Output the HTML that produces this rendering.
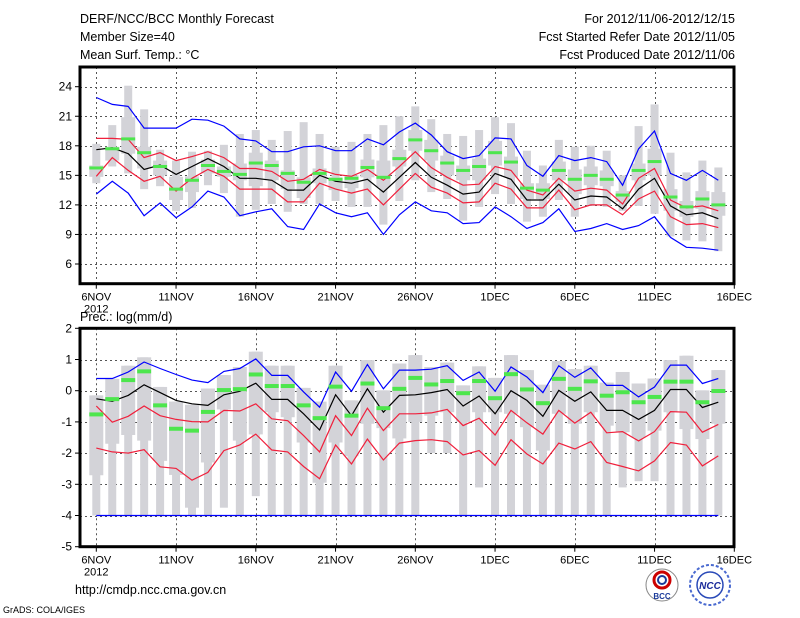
<!DOCTYPE html>
<html><head><meta charset="utf-8">
<style>
html,body{margin:0;padding:0;background:#fff;}
svg{display:block;font-family:"Liberation Sans",sans-serif;}
</style></head>
<body>
<svg id="chart" width="800" height="618" viewBox="0 0 800 618" xmlns="http://www.w3.org/2000/svg">
<rect x="0" y="0" width="800" height="618" fill="#fff"/>
<g font-size="12.5" fill="#000">
<text x="80" y="23">DERF/NCC/BCC Monthly Forecast</text>
<text x="80" y="41">Member Size=40</text>
<text x="80" y="59">Mean Surf. Temp.: °C</text>
<text x="735" y="23" text-anchor="end">For 2012/11/06-2012/12/15</text>
<text x="735" y="41" text-anchor="end">Fcst Started Refer Date 2012/11/05</text>
<text x="735" y="59" text-anchor="end">Fcst Produced Date 2012/11/06</text>
<text x="80" y="321">Prec.: log(mm/d)</text>
<text x="75" y="594">http://cmdp.ncc.cma.gov.cn</text>
<text x="3" y="613" font-size="9">GrADS: COLA/IGES</text>
</g>
<g>
<circle cx="662" cy="585" r="16" fill="#fff" stroke="#888" stroke-width="1"/>
<circle cx="662" cy="580" r="8" fill="none" stroke="#c00" stroke-width="3"/>
<circle cx="662" cy="580" r="4" fill="none" stroke="#1a3a9a" stroke-width="2"/>
<text x="662" y="599" font-size="8" text-anchor="middle" fill="#1a3a9a" font-weight="bold">BCC</text>
</g>
<g>
<circle cx="710" cy="585" r="20" fill="#fff" stroke="#4a6ad0" stroke-width="2" stroke-dasharray="3,2"/>
<circle cx="710" cy="585" r="13" fill="#fff" stroke="#2a4ab8" stroke-width="1.5"/>
<text x="710" y="589" font-size="10" text-anchor="middle" fill="#1a2a9a" font-weight="bold" font-style="italic">NCC</text>
</g>
<g id="plots"></g>
</svg>
<script>
// ===== Data (day 0 = 6NOV 2012) =====
const xLabels = ["6NOV","11NOV","16NOV","21NOV","26NOV","1DEC","6DEC","11DEC","16DEC"];
// Temperature panel
const tBlueHi = [22.9,22.2,22.0,19.8,19.8,19.8,20.7,20.6,20.0,18.7,18.5,17.4,17.4,17.9,18.0,17.5,17.5,18.7,18.1,19.4,20.3,19.1,17.4,16.7,17.0,18.8,18.7,16.0,14.9,17.0,16.5,16.8,16.4,14.0,17.7,19.5,15.2,14.5,15.5,14.5];
const tRedHi = [18.75,18.75,18.65,16.8,17.3,16.5,16.9,17.4,16.8,15.7,15.7,15.4,14.4,14.6,15.6,15.1,14.9,15.6,14.5,15.9,17.4,15.8,14.8,14.0,14.1,15.9,15.5,13.5,13.0,14.7,13.4,13.7,13.5,12.1,14.7,15.7,12.5,11.7,11.9,11.4];
const tBlack = [17.6,17.8,17.2,15.6,16.05,15.1,15.9,16.7,15.9,14.7,14.7,14.5,13.5,13.5,15.0,14.4,14.2,14.6,13.3,14.8,16.3,14.8,14.0,13.1,13.3,15.2,14.6,12.5,12.5,14.1,12.5,12.9,12.8,11.6,13.6,14.7,11.9,11.0,11.2,10.6];
const tRedLo = [14.9,16.8,15.5,14.4,14.9,13.4,14.7,15.6,14.9,13.6,13.6,13.6,12.3,12.3,14.2,13.6,13.2,13.6,12.0,13.6,15.2,13.8,13.2,12.2,12.3,14.2,13.6,11.7,11.7,13.5,11.5,12.0,12.0,11.0,12.6,13.4,10.8,10.0,10.1,9.7];
const tBlueLo = [13.1,14.4,13.2,10.9,12.2,10.7,11.8,13.4,12.8,10.9,11.3,11.6,9.8,9.5,12.1,11.2,10.8,11.2,9.0,11.0,12.3,11.4,11.2,10.1,10.2,11.8,10.8,9.6,10.2,11.6,9.3,9.6,10.1,9.5,9.9,10.8,8.7,7.7,7.6,7.4];
const tMax = [18.2,20.1,24.1,21.7,17.6,16.5,17.4,17.5,18.1,19.2,19.6,18.6,19.5,20.4,19.2,17.9,18.4,19.2,20.1,21.0,22.0,20.7,19.2,19.0,19.6,20.9,20.3,17.5,16.0,18.6,17.9,18.0,17.5,15.0,20.0,22.2,17.3,15.3,16.5,15.8];
const tMin = [14.2,15.9,15.2,13.6,13.9,11.4,11.7,14.0,13.2,10.8,11.5,12.1,11.3,12.1,12.1,12.4,11.8,11.8,10.0,12.4,14.5,13.3,12.6,10.4,11.8,13.1,12.1,10.3,10.8,12.5,10.8,11.9,11.8,11.4,11.9,11.1,8.8,8.4,8.3,7.3];
const tQ3 = [16.0,17.9,20.9,17.9,16.5,14.85,14.9,16.6,15.9,16.2,17.3,16.5,15.5,14.8,15.7,14.8,15.0,16.6,16.5,17.6,19.6,18.6,17.0,16.0,16.7,18.5,16.9,14.2,14.2,16.4,15.6,15.9,15.5,13.4,16.2,17.7,13.6,12.4,13.4,13.3];
const tQ1 = [14.85,16.5,17.2,15.7,15.0,12.5,13.3,15.2,14.85,14.5,13.9,14.5,13.6,12.7,14.2,13.5,13.7,14.8,13.8,15.9,17.5,16.5,15.0,14.5,14.5,16.0,14.8,12.6,12.6,14.5,13.1,14.0,13.9,12.3,14.5,15.0,11.4,10.8,11.6,10.9];
const tMed = [15.75,17.7,18.7,17.3,15.9,13.6,14.5,16.0,15.4,15.1,16.25,16.0,15.2,14.3,15.2,14.6,14.7,15.8,14.8,16.7,18.6,17.5,16.25,15.5,15.9,17.3,16.35,13.7,13.5,15.5,14.6,15.0,14.6,13.0,15.5,16.4,12.8,11.8,12.6,12.0];
const tTicks = [6,9,12,15,18,21,24];
// Precipitation panel
const pBlueHi = [0.39,0.39,0.6,0.92,0.71,0.52,0.34,0.26,0.62,0.71,1.02,0.49,0.49,-0.04,-0.53,0.6,-0.02,0.84,0.06,0.66,0.66,0.69,0.8,0.33,0.6,-0.02,0.76,0.44,-0.06,0.8,0.43,0.73,0.17,0.17,-0.2,0.12,0.82,0.82,0.23,0.39];
const pBlack = [-0.26,-0.34,-0.15,0.19,-0.06,-0.31,-0.42,-0.47,-0.13,-0.02,0.24,-0.28,-0.28,-0.74,-1.26,-0.13,-0.8,0.06,-0.69,-0.15,-0.13,-0.06,0.04,-0.49,-0.17,-0.74,0.0,-0.31,-0.82,0.01,-0.34,-0.04,-0.63,-0.63,-0.92,-0.63,0.04,0.04,-0.54,-0.37];
const pRedHi = [-0.49,-1.01,-0.82,-0.49,-0.8,-0.92,-0.99,-1.0,-0.63,-0.65,-0.42,-0.9,-0.96,-1.44,-1.96,-0.8,-1.44,-0.56,-1.28,-0.74,-0.74,-0.71,-0.6,-1.12,-0.88,-1.42,-0.63,-1.03,-1.39,-0.63,-1.04,-0.69,-1.35,-1.31,-1.61,-1.31,-0.67,-0.69,-1.33,-1.08];
const pRedLo = [-1.84,-1.96,-2.0,-1.89,-2.44,-2.49,-2.87,-2.62,-1.92,-1.74,-1.39,-1.9,-1.96,-2.43,-2.82,-1.74,-2.35,-1.55,-2.22,-1.68,-1.6,-1.57,-1.63,-2.06,-1.92,-2.39,-1.57,-2.03,-2.35,-1.68,-1.87,-1.63,-2.3,-2.43,-2.57,-2.25,-1.66,-1.74,-2.41,-2.09];
const pBlueLo = [-4,-4,-4,-4,-4,-4,-4,-4,-4,-4,-4,-4,-4,-4,-4,-4,-4,-4,-4,-4,-4,-4,-4,-4,-4,-4,-4,-4,-4,-4,-4,-4,-4,-4,-4,-4,-4,-4,-4,-4];
const pMax = [-0.15,0.38,0.8,1.07,0.12,-0.35,-0.45,0.07,0.5,0.76,1.25,0.8,0.8,0.09,-0.35,0.8,-0.31,0.98,0.01,0.87,1.14,0.76,0.9,0.17,0.78,0.41,1.14,0.66,0.19,0.95,0.69,0.8,0.26,0.6,0.23,0.39,0.98,1.12,0.01,0.66];
const pQ3 = pMax;
const pQ1 = [-2.71,-1.7,-1.42,-1.6,-2.25,-2.7,-3.75,-2.3,-0.6,-1.6,-1.4,-0.69,-0.85,-1.66,-2.95,-1.66,-2.1,-1.06,-1.2,-1.53,-1.0,-0.8,-0.69,-1.0,-0.69,-0.69,-0.74,-1.17,-1.92,-0.74,-1.06,-0.69,-1.12,-1.33,-1.5,-1.28,-0.69,-1.23,-1.55,-1.06];
const pMin = [-4,-4,-4,-4,-4,-4,-4,-4,-3.75,-4,-3.38,-4,-4,-4,-4,-4,-4,-4,-4,-4,-4,-2.0,-2.0,-4,-3.1,-4,-4,-4,-4,-4,-4,-4,-4,-3.1,-2.9,-2.9,-4,-4,-4,-4];
const pMed = [-0.76,-0.27,0.34,0.62,-0.47,-1.22,-1.28,-0.68,0.02,0.05,0.52,0.15,0.15,-0.47,-0.88,0.13,-0.8,0.23,-0.56,0.06,0.41,0.2,0.31,-0.08,0.31,-0.24,0.53,0.04,-0.4,0.38,0.06,0.3,-0.16,-0.05,-0.37,-0.2,0.29,0.29,-0.37,-0.01];
const pTicks = [-5,-4,-3,-2,-1,0,1,2];

const NS = "http://www.w3.org/2000/svg";
const root = document.getElementById("plots");
function mk(tag, attrs, parent){const e=document.createElementNS(NS,tag);for(const k in attrs)e.setAttribute(k,attrs[k]);(parent||root).appendChild(e);return e;}
const X0 = 80, X1 = 734;
function xScale(d){ return 96.3 + d*15.95; }

function drawPanel(cfg){
  const g = mk("g",{});
  
  
  const y = v => cfg.yTop + (cfg.vTop - v)*cfg.ppu;
  const grid = mk("g",{stroke:"#555","stroke-width":"1","stroke-dasharray":"2,3"},g);
  
  
  cfg.ticks.forEach(t=>{ const yy=Math.round(y(t))+0.5; mk("line",{x1:X0,x2:X1,y1:yy,y2:yy},grid); });
  for(let i=0;i<8;i++){ const xx=Math.round(xScale(i*5))+0.5; mk("line",{x1:xx,x2:xx,y1:cfg.yTop,y2:cfg.yBot},grid); }
  const n = cfg.max.length;
  for(let i=0;i<n;i++){
    const cx = xScale(i);
    const r1 = mk("rect",{x:cx-4,y:y(cfg.max[i]),width:8,height:Math.max(1,y(cfg.min[i])-y(cfg.max[i])),fill:"#d3d3d8"},g);
    
    
    const r2 = mk("rect",{x:cx-7,y:y(cfg.q3[i]),width:14,height:Math.max(1,y(cfg.q1[i])-y(cfg.q3[i])),fill:"#d3d3d8"},g);
    
    
  }
  cfg.lines.forEach(L=>{
    const pts = L.data.map((v,i)=>xScale(i).toFixed(1)+","+y(v).toFixed(1)).join(" ");
    const p = mk("polyline",{points:pts,fill:"none",stroke:L.color,"stroke-width":"1.2"},g);
    
    
  });
  for(let i=0;i<n;i++){
    const cx = xScale(i);
    const m = mk("rect",{x:cx-7,y:y(cfg.med[i])-cfg.medH/2,width:14,height:cfg.medH,fill:"#4de64d"},g);
    
    
  }
  const fr = mk("rect",{x:X0,y:cfg.yTop,width:X1-X0,height:cfg.yBot-cfg.yTop,fill:"none",stroke:"#000","stroke-width":"3"},g);
  
  
  cfg.ticks.forEach(t=>{
    const yy=y(t);
    mk("line",{x1:X0-5,x2:X0,y1:yy,y2:yy,stroke:"#000","stroke-width":"1"},g);
    const tx = mk("text",{x:X0-8,y:yy+4,"text-anchor":"end","font-size":"12"},g);
    tx.textContent = t;
    
    
  });
  xLabels.forEach((lab,i)=>{
    const xx = xScale(i*5);
    mk("line",{x1:xx,x2:xx,y1:cfg.yBot,y2:cfg.yBot+5,stroke:"#000","stroke-width":"1"},g);
    const tx = mk("text",{x:xx,y:cfg.yBot+17,"text-anchor":"middle","font-size":"11"},g);
    tx.textContent = lab;
    
    
  });
  const yr = mk("text",{x:xScale(0),y:cfg.yBot+29,"text-anchor":"middle","font-size":"11"},g);
  yr.textContent = "2012";
  
  
}

drawPanel({name:"temperature-panel", yTop:67, yBot:283.7, vTop:26, ppu:9.85, ticks:tTicks,
  max:tMax,min:tMin,q3:tQ3,q1:tQ1,med:tMed,medH:3,
  lines:[{name:"temp-upper-blue",data:tBlueHi,color:"#0000ff"},{name:"temp-upper-red",data:tRedHi,color:"#f0203c"},
         {name:"temp-ensemble-mean",data:tBlack,color:"#000"},{name:"temp-lower-red",data:tRedLo,color:"#f0203c"},
         {name:"temp-lower-blue",data:tBlueLo,color:"#0000ff"}]});
drawPanel({name:"precip-panel", yTop:328.3, yBot:546.7, vTop:2, ppu:31.2, ticks:pTicks,
  max:pMax,min:pMin,q3:pQ3,q1:pQ1,med:pMed,medH:4,
  lines:[{name:"precip-upper-blue",data:pBlueHi,color:"#0000ff"},{name:"precip-upper-red",data:pRedHi,color:"#f0203c"},
         {name:"precip-ensemble-mean",data:pBlack,color:"#000"},{name:"precip-lower-red",data:pRedLo,color:"#f0203c"},
         {name:"precip-lower-blue",data:pBlueLo,color:"#0000ff"}]});
</script>
</body></html>
